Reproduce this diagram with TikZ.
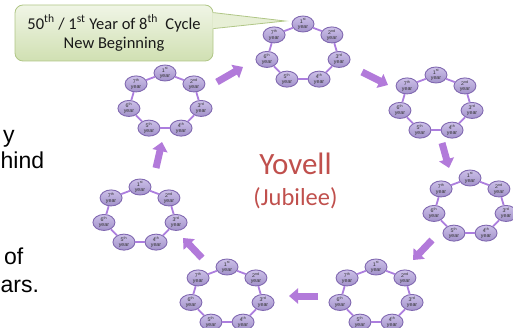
\documentclass[tikz,border=0pt]{standalone}
\usepackage{fontspec}
\usepackage{tikz}
\usetikzlibrary{shapes.geometric,arrows.meta}

\newfontfamily\arialfont{Liberation Sans}
\newfontfamily\calibrifont{Carlito}

\definecolor{moradoflecha}{RGB}{178,122,218}
\definecolor{moradolinea}{RGB}{172,126,222}
\definecolor{aniotop}{RGB}{204,192,232}
\definecolor{aniobot}{RGB}{162,146,202}
\definecolor{anioborde}{RGB}{128,104,176}
\definecolor{globotop}{RGB}{240,245,230}
\definecolor{globobot}{RGB}{208,224,178}
\definecolor{globoborde}{RGB}{176,198,134}
\definecolor{rojoyovell}{RGB}{192,80,77}

\tikzset{
  anio/.style={ellipse, minimum width=22pt, minimum height=16pt, inner sep=0pt,
    top color=aniotop, bottom color=aniobot, draw=anioborde, line width=0.9pt,
    align=center, font=\arialfont\fontsize{5.3}{5.3}\selectfont, text=black!80},
  enlace/.style={draw=moradolinea, line width=1.8pt},
  flecha/.style={draw=moradoflecha, line width=7pt, -{Triangle[width=15pt,length=9pt]}},
  globo/.style={rectangle, rounded corners=8pt, minimum width=198pt, minimum height=56pt,
    top color=globotop, bottom color=globobot, draw=globoborde, line width=0.8pt,
    align=center, font=\calibrifont\fontsize{16.5}{19}\selectfont, text=black!90},
  textoizq/.style={font=\arialfont\fontsize{23}{23}\selectfont, inner sep=0pt, anchor=base west}
}

\begin{document}
\begin{tikzpicture}[x=1pt,y=-1pt]

		% Marco de la imagen
		\useasboundingbox (0,0) rectangle (513,328);
		\clip (0,0) rectangle (513,328);

		% Texto de la diapositiva, pegado al borde
		\node[textoizq] (lineay) at (3,143) {y};
		\node[textoizq] (lineahind) at (0.5,169) {hind};
		\node[textoizq] (lineaof) at (4,265) {of};
		\node[textoizq] (lineaars) at (0.5,292) {ars.};

		% Ciclos de siete años
		\foreach \nom/\cx/\cy in {t/303/53, ur/436/104, r/470/207, br/376/296, bl/227/296, l/140/216, ul/165/102}{
			\foreach \k/\suf in {1/st,2/nd,3/rd,4/th,5/th,6/th,7/th}
				\node[anio] (\nom\k) at ({\cx+37*cos(90-(\k-1)*360/7)}, {\cy-29*sin(90-(\k-1)*360/7)}) {\k\textsuperscript{\suf}\\year};
			\foreach \k in {1,...,7}{
				\pgfmathtruncatemacro{\sig}{mod(\k,7)+1}
				\draw[enlace] (\nom\k) -- (\nom\sig);
			}
		}

		% Flechas entre ciclos
		\coordinate (f1a) at (217,82);  \coordinate (f1b) at (243,67);
		\coordinate (f2a) at (362,72);  \coordinate (f2b) at (388,85);
		\coordinate (f3a) at (442,143); \coordinate (f3b) at (449,168);
		\coordinate (f4a) at (432,240); \coordinate (f4b) at (413,260);
		\coordinate (f5a) at (318,296); \coordinate (f5b) at (289,296);
		\coordinate (f6a) at (202,258); \coordinate (f6b) at (183,238);
		\coordinate (f7a) at (156,168); \coordinate (f7b) at (162,142);
		\foreach \i in {1,...,7}
			\draw[flecha] (f\i a) -- (f\i b);

		% Globo del año 50
		\node[globo] (globo) at (114,33) {50\textsuperscript{th} / 1\textsuperscript{st} Year of 8\textsuperscript{th}~ Cycle\\New Beginning};
		\coordinate (punta) at (285,21);
		\fill[globotop!70!globobot] ([xshift=-1pt,yshift=-8pt]globo.north east) -- (punta) -- ([xshift=-1pt,yshift=-24pt]globo.north east) -- cycle;
		\draw[globoborde, line width=0.8pt] ([yshift=-8pt]globo.north east) -- (punta) -- ([yshift=-24pt]globo.north east);

		% Texto central
		\node[font=\calibrifont\fontsize{31}{31}\selectfont, text=rojoyovell, inner sep=0pt, anchor=base] (yovell) at (295.5,175) {Yovell};
		\node[font=\calibrifont\fontsize{24.5}{24.5}\selectfont, text=rojoyovell, inner sep=0pt, anchor=base] (jubileo) at (295.5,206) {(Jubilee)};

	\end{tikzpicture}
\end{document}
